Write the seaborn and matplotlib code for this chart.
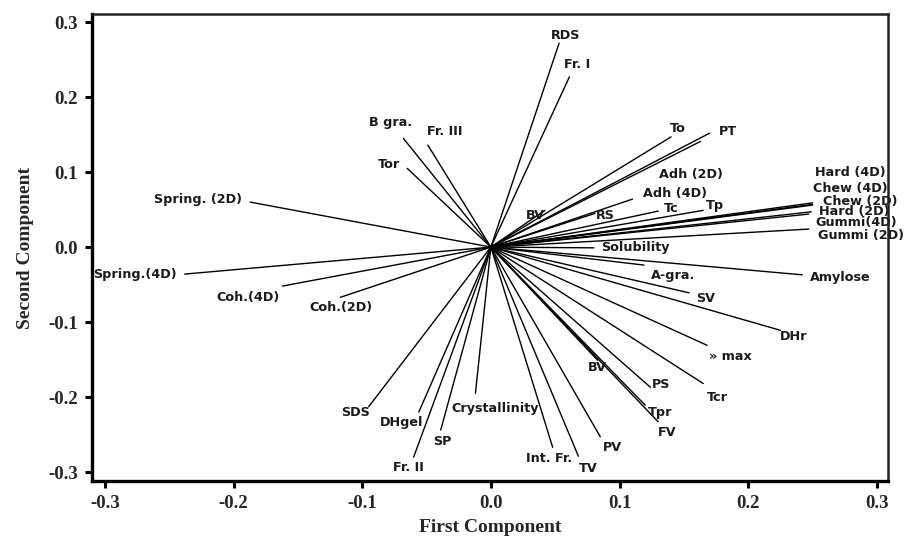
import pandas as pd
import matplotlib.pyplot as plt
import seaborn as sns

# Loadings (first and second component)
variables = ["RDS", "Fr. I", "To", "PT", "Adh (2D)", "Adh (4D)", "Tc", "Tp", "RS", "BV",
             "Hard (4D)", "Chew (4D)", "Chew (2D)", "Hard (2D)", "Gummi(4D)", "Gummi (2D)",
             "Solubility", "A-gra.", "Amylose", "SV", "DHr", "» max", "BV", "PS", "Tcr",
             "Tpr", "FV", "PV", "TV", "Int. Fr.", "Crystallinity", "SDS", "DHgel", "SP",
             "Fr. II", "Coh.(2D)", "Coh.(4D)", "Spring.(4D)", "Spring. (2D)", "Tor",
             "B gra.", "Fr. III"]
pc1 = [0.053, 0.061, 0.140, 0.170, 0.163, 0.110, 0.130, 0.165, 0.081, 0.042,
       0.250, 0.250, 0.250, 0.249, 0.247, 0.247,
       0.080, 0.119, 0.242, 0.154, 0.225, 0.168, 0.083, 0.124, 0.165,
       0.120, 0.130, 0.085, 0.068, 0.048, -0.012, -0.095, -0.056, -0.039,
       -0.060, -0.117, -0.162, -0.238, -0.187, -0.065,
       -0.068, -0.049]
pc2 = [0.272, 0.227, 0.147, 0.152, 0.141, 0.064, 0.048, 0.049, 0.045, 0.049,
       0.059, 0.056, 0.057, 0.047, 0.044, 0.024,
       -0.001, -0.024, -0.037, -0.061, -0.111, -0.131, -0.151, -0.187, -0.182,
       -0.211, -0.233, -0.253, -0.279, -0.267, -0.195, -0.213, -0.220, -0.244,
       -0.280, -0.067, -0.052, -0.036, 0.060, 0.105,
       0.145, 0.136]

# label placement relative to the end of each vector (pixels, y up)
label_offsets = [(6, 8), (8, 12), (7, 8), (18, 2), (-10, -33), (43, 6), (13, 3), (12, 5), (10, -2), (-10, -5),
                 (38, 30), (38, 17), (48, 3), (43, 0), (47, -8), (52, -6),
                 (42, 0), (29, -10), (38, -3), (17, -6), (13, -6), (23, -11), (0, -7), (11, 3), (14, -14),
                 (15, -7), (9, -11), (12, -11), (10, -12), (-4, -11), (20, -15), (-13, -6), (-17, -10), (2, -11),
                 (-5, -10), (1, -10), (-34, -11), (-50, 0), (-52, 3), (-18, 4),
                 (-13, 16), (17, 14)]

# each vector goes from the origin to its loading
rows = []
for i, (x, y) in enumerate(zip(pc1, pc2)):
    rows.append({"vec": i, "x": 0.0, "y": 0.0})
    rows.append({"vec": i, "x": x, "y": y})
df = pd.DataFrame(rows)

sns.set_theme(style="white")
plt.rcParams["font.family"] = ["DejaVu Sans"]

fig = plt.figure(figsize=(9.15, 5.44), dpi=100)
ax = fig.add_axes([0.1005, 0.1158, 0.8700, 0.8582])

sns.lineplot(data=df, x="x", y="y", units="vec", estimator=None, sort=False,
             color="black", linewidth=1.0, ax=ax, legend=False)

for name, x, y, off in zip(variables, pc1, pc2, label_offsets):
    ax.annotate(name, (x, y), xytext=off, textcoords="offset pixels",
                ha="center", va="center", fontsize=9.2, fontweight="bold", color="#1a1a1a")

ax.set_xlim(-0.310, 0.3086)
ax.set_ylim(-0.312, 0.3107)
ax.set_xticks([-0.3, -0.2, -0.1, 0.0, 0.1, 0.2, 0.3])
ax.set_yticks([-0.3, -0.2, -0.1, 0.0, 0.1, 0.2, 0.3])
ax.set_xticklabels(["-0.3", "-0.2", "-0.1", "0.0", "0.1", "0.2", "0.3"])
ax.set_yticklabels(["-0.3", "-0.2", "-0.1", "0.0", "0.1", "0.2", "0.3"])

serif = {"family": "Liberation Serif", "weight": "bold"}
for lab in ax.get_xticklabels() + ax.get_yticklabels():
    lab.set_fontfamily("Liberation Serif")
    lab.set_fontweight("bold")
    lab.set_fontsize(13.5)
ax.set_xlabel("First Component", fontdict=serif, fontsize=14, labelpad=5)
ax.set_ylabel("Second Component", fontdict=serif, fontsize=14, labelpad=10)

ax.tick_params(axis="both", direction="out", length=5, width=2.2, color="black",
               bottom=True, left=True, pad=5)
for side in ["left", "bottom"]:
    ax.spines[side].set_linewidth(2.4)
    ax.spines[side].set_color("black")
for side in ["top", "right"]:
    ax.spines[side].set_linewidth(1.8)
    ax.spines[side].set_color("#222222")
for sp in ax.spines.values():
    sp.set_zorder(5)

plt.savefig("out.png", dpi=100)
